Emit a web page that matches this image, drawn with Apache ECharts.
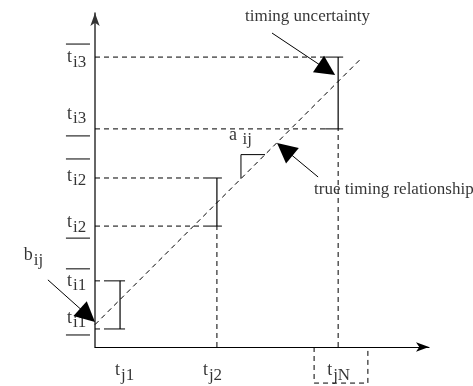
<!DOCTYPE html>
<html>
<head>
<meta charset="utf-8">
<script src="https://cdn.jsdelivr.net/npm/echarts@6/dist/echarts.min.js"></script>
<style>
  html, body { margin: 0; padding: 0; background: #fff; }
  #chart { width: 473px; height: 386px; }
</style>
</head>
<body>
<div id="chart"></div>
<script>
// t_j positions on the x axis and the timing bounds t_i (lower / upper)
const tj = [7.5, 36.5, 72.8]
const tiLow = [5.4, 36.2, 65.3]
const tiHigh = [19.8, 50.6, 86.8]
const xNames = ['j1', 'j2', 'jN']
const yNames = ['i1', 'i2', 'i3']
// true timing relationship t_i = b_ij + a_ij * t_j
const bij = 6.7
const aij = 1.0
const lineEndX = 79.3

// layout of annotations (not data)
const FONT = 'Liberation Serif'
const capL = 3.9
const capR = 1.5
const barLabelX = -8.4
const barOver = [-8.7, -1.5]
const overY = [23.4, 56.3, 90.7]
const underY = [3.6, 32.6, 63.2]
const upLabelY = [19.8, 51.2, 86.8]
const lowLabelY = [8.7, 37.4, 69.8]
const xLabelX = [6.0, 32.3, 69.5]
const xLabelY = -6.9
const boxX = [65.6, 81.7]
const boxY = -10.8
const arrows = [
  { from: [53.0, 94.0], tip: [71.9, 81.4] },
  { from: [66.8, 50.9], tip: [54.5, 61.1] },
  { from: [-14.1, 20.1], tip: [0, 7.5] }
]
const headLen = 20 // px
const unitPx = 3.34

const solid = []
const dashed = []
function seg (pts, isDashed, width) {
  const item = { coords: pts, lineStyle: { width: width || 1 } }
  if (isDashed) dashed.push(item)
  else solid.push(item)
}

// true relationship (dashed diagonal)
seg([[0, bij], [lineEndX, bij + aij * lineEndX]], true)

tj.forEach(function (x, i) {
  seg([[0, tiLow[i]], [x - capL, tiLow[i]]], true)
  seg([[0, tiHigh[i]], [x - capL, tiHigh[i]]], true)
  seg([[x - capL, tiLow[i]], [x + capR, tiLow[i]]], false)
  seg([[x - capL, tiHigh[i]], [x + capR, tiHigh[i]]], false)
  seg([[x, tiLow[i]], [x, tiHigh[i]]], false, 1.2)
  if (i > 0) seg([[x, 0], [x, tiLow[i]]], true)
  seg([[barOver[0], overY[i]], [barOver[1], overY[i]]], false)
  seg([[barOver[0], underY[i]], [barOver[1], underY[i]]], false)
})

// slope triangle
const sx0 = 43.7
const sx1 = 50.9
seg([[sx0, bij + aij * sx0], [sx0, bij + aij * sx1], [sx1, bij + aij * sx1]], false)

// dashed box around t_jN
seg([[boxX[0], 0], [boxX[0], boxY], [boxX[1], boxY], [boxX[1], 0]], true)

const series = []
series.push({
  type: 'lines', coordinateSystem: 'cartesian2d', polyline: true, clip: false, silent: true,
  symbol: 'none',
  lineStyle: { color: '#000', width: 1, opacity: 1, type: 'solid' },
  data: solid
})
series.push({
  type: 'lines', coordinateSystem: 'cartesian2d', polyline: true, clip: false, silent: true,
  symbol: 'none',
  lineStyle: { color: '#000', width: 1, opacity: 1, type: [5, 4] },
  data: dashed
})

// text labels
const rich = {
  m: { fontFamily: FONT, fontSize: 18, color: '#000' },
  s: { fontFamily: FONT, fontSize: 17, color: '#000', padding: [10, 0, 0, 1] },
  p: { fontFamily: FONT, fontSize: 17, color: '#000' }
}
const texts = []
yNames.forEach(function (n, i) {
  texts.push({ value: [barLabelX, upLabelY[i]], label: { formatter: '{m|t}{s|' + n + '}' } })
  texts.push({ value: [barLabelX, lowLabelY[i]], label: { formatter: '{m|t}{s|' + n + '}' } })
})
xNames.forEach(function (n, i) {
  texts.push({ value: [xLabelX[i], xLabelY], label: { formatter: '{m|t}{s|' + n + '}' } })
})
texts.push({ value: [-21.3, 27.5], label: { formatter: '{m|b}{s|ij}' } })
texts.push({ value: [40.1, 63.5], label: { formatter: '{m|a }{s|ij}' } })
texts.push({ value: [44.9, 98.8], label: { formatter: '{p|timing uncertainty}' } })
texts.push({ value: [65.6, 47.0], label: { formatter: '{p|true timing relationship}' } })

series.push({
  type: 'scatter',
  symbolSize: 0,
  clip: false,
  silent: true,
  data: texts,
  label: {
    show: true,
    position: 'inside',
    align: 'left',
    verticalAlign: 'middle',
    rich: rich
  }
})

// pointer arrows: pull the end back so the head's tip lands on the target
const back = headLen / 2 / unitPx
series.push({
  type: 'lines',
  coordinateSystem: 'cartesian2d',
  clip: false,
  silent: true,
  symbol: ['none', 'triangle'],
  symbolSize: [9, headLen],
  lineStyle: { color: '#000', width: 1, opacity: 1 },
  data: arrows.map(function (a) {
    const dx = a.tip[0] - a.from[0]
    const dy = a.tip[1] - a.from[1]
    const len = Math.sqrt(dx * dx + dy * dy)
    return { coords: [a.from, [a.tip[0] - dx / len * back, a.tip[1] - dy / len * back]] }
  })
})

const chart = echarts.init(document.getElementById('chart'))
chart.setOption({
  animation: false,
  grid: { left: 95, right: 44, top: 13, bottom: 39 },
  xAxis: {
    type: 'value', min: 0, max: 100,
    axisLine: { onZero: false, symbol: ['none', 'arrow'], symbolSize: [7, 13], lineStyle: { color: '#000', width: 1.2 } },
    axisTick: { show: false }, axisLabel: { show: false }, splitLine: { show: false }
  },
  yAxis: {
    type: 'value', min: 0, max: 100,
    axisLine: { onZero: false, symbol: ['none', 'arrow'], symbolSize: [7, 13], lineStyle: { color: '#333', width: 1.5 } },
    axisTick: { show: false }, axisLabel: { show: false }, splitLine: { show: false }
  },
  series: series
})
</script>
</body>
</html>
